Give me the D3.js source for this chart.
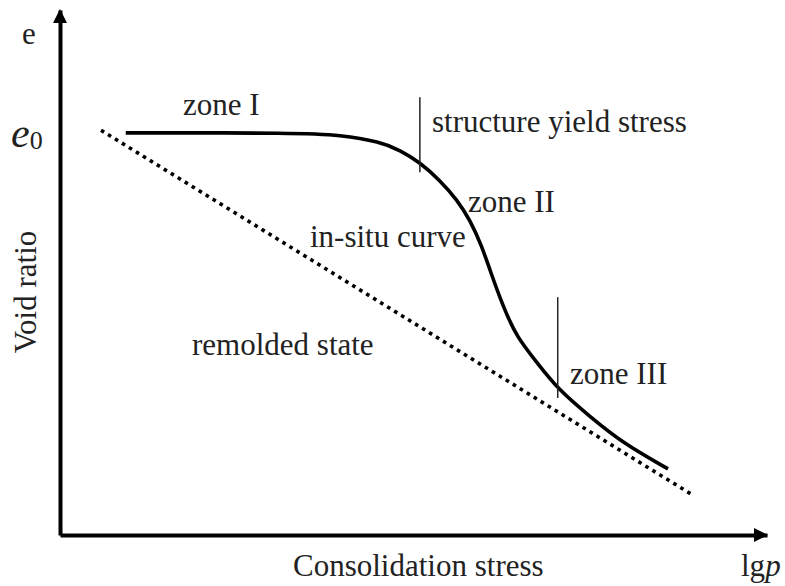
<!DOCTYPE html>
<html>
<head>
<meta charset="utf-8">
<script src="https://cdn.jsdelivr.net/npm/d3@7"></script>
<style>
  body { margin: 0; background: #fff; }
</style>
</head>
<body>
<script>
// in-situ e - lgp curve (schematic)
const insituLgp = [0.93, 3.39, 3.96, 4.53, 4.81, 5.09, 5.37, 5.62, 5.80, 5.97, 6.08, 6.27, 6.46, 6.75, 7.04, 7.50, 7.96, 8.60]
const insituE   = [0.766, 0.766, 0.762, 0.749, 0.733, 0.710, 0.676, 0.638, 0.600, 0.549, 0.505, 0.434, 0.377, 0.328, 0.278, 0.225, 0.175, 0.126]

// remolded line (dotted)
const remoldLgp = [0.58, 8.95]
const remoldE   = [0.771, 0.076]

// zone boundaries (thin vertical marks)
const boundaryLgp = [5.09, 7.04]
const boundaryTop = [0.834, 0.453]
const boundaryBot = [0.691, 0.261]

const width = 785, height = 586
const serif = 'Liberation Serif'

const svg = d3.select('body').append('svg')
    .attr('width', width)
    .attr('height', height)

// scales
const x = d3.scaleLinear().domain([0, 10]).range([60, 767])
const y = d3.scaleLinear().domain([0, 1]).range([535, 10])

// axes, no ticks, only the thick domain line
const xAxis = svg.append('g')
    .attr('transform', 'translate(0,' + y(0) + ')')
    .call(d3.axisBottom(x).tickValues([]).tickSizeOuter(0))
xAxis.select('.domain').attr('stroke', '#000').attr('stroke-width', 4)

const yAxis = svg.append('g')
    .attr('transform', 'translate(' + x(0) + ',0)')
    .call(d3.axisLeft(y).tickValues([]).tickSizeOuter(0))
yAxis.select('.domain').attr('stroke', '#000').attr('stroke-width', 4)

// arrow heads
svg.append('path')
    .attr('d', 'M' + (x(10) + 1) + ',' + y(0) + 'L' + (x(10) - 13) + ',' + (y(0) - 7) + 'L' + (x(10) - 13) + ',' + (y(0) + 7) + 'Z')
    .attr('fill', '#000')
svg.append('path')
    .attr('d', 'M' + x(0) + ',' + (y(1) - 1) + 'L' + (x(0) - 7) + ',' + (y(1) + 13) + 'L' + (x(0) + 7) + ',' + (y(1) + 13) + 'Z')
    .attr('fill', '#000')

// remolded dotted line
const remold = remoldLgp.map((d, i) => ({lgp: d, e: remoldE[i]}))
svg.append('path')
    .datum(remold)
    .attr('d', d3.line().x(d => x(d.lgp)).y(d => y(d.e)))
    .attr('fill', 'none')
    .attr('stroke', '#000')
    .attr('stroke-width', 3.6)
    .attr('stroke-dasharray', '3.6 4.6')

// in-situ curve, smoothed through the read points
const insitu = insituLgp.map((d, i) => ({lgp: d, e: insituE[i]}))
svg.append('path')
    .datum(insitu)
    .attr('d', d3.line().curve(d3.curveBasis).x(d => x(d.lgp)).y(d => y(d.e)))
    .attr('fill', 'none')
    .attr('stroke', '#000')
    .attr('stroke-width', 3.6)

// boundary marks
svg.selectAll('.bound')
    .data(boundaryLgp)
    .enter()
    .append('line')
    .attr('x1', d => x(d))
    .attr('x2', d => x(d))
    .attr('y1', (d, i) => y(boundaryTop[i]))
    .attr('y2', (d, i) => y(boundaryBot[i]))
    .attr('stroke', '#222')
    .attr('stroke-width', 1.5)

// labels
const fs = 31
function label(t, px, py) {
    return svg.append('text')
        .attr('x', px).attr('y', py)
        .style('font-family', serif)
        .attr('font-size', fs)
        .attr('fill', '#222')
        .text(t)
}
label('zone I', 183, 115)
label('structure yield stress', 432, 132)
label('zone II', 468, 212)
label('in-situ curve', 310, 247)
label('remolded state', 192, 355)
label('zone III', 570, 384)
label('Consolidation stress', 293, 576)

// axis names
label('e', 22, 44)
svg.append('text')
    .attr('transform', 'translate(36,292) rotate(-90)')
    .attr('text-anchor', 'middle')
    .style('font-family', serif)
    .attr('font-size', fs)
    .attr('fill', '#222')
    .text('Void ratio')

const lgp = label('', 741, 576)
lgp.append('tspan').text('lg')
lgp.append('tspan').attr('font-style', 'italic').text('p')

const e0 = svg.append('text').attr('x', 11).attr('y', 147)
    .style('font-family', serif).attr('font-size', 42).attr('fill', '#222')
e0.append('tspan').attr('font-style', 'italic').text('e')
e0.append('tspan').attr('font-size', 26).attr('dy', 2).text('0')
</script>
</body>
</html>
